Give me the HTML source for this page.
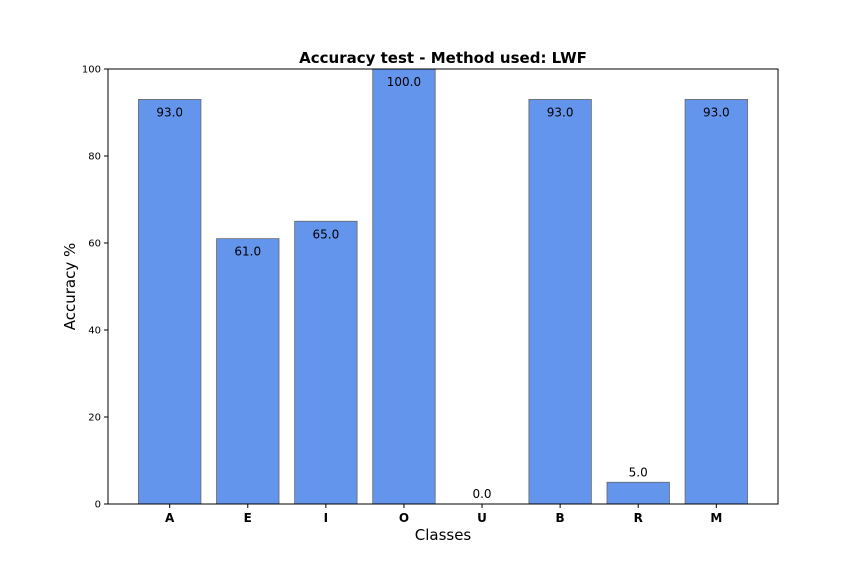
<!DOCTYPE html>
<html><head><meta charset="utf-8"><style>
body{margin:0;background:#fff}
svg{display:block;font-family:"DejaVu Sans","Liberation Sans",sans-serif}
</style></head><body>
<svg id="chart" width="864" height="576">
<text x="443" y="63" text-anchor="middle" font-size="15" font-weight="bold">Accuracy test - Method used: LWF</text>
<text x="443" y="540" text-anchor="middle" font-size="15">Classes</text>
<text transform="translate(75,286.5) rotate(-90)" text-anchor="middle" font-size="15">Accuracy %</text>
<g id="bars"></g><g id="yticks"></g><g id="xticks"></g>
<rect x="108" y="69" width="670" height="435" fill="none" stroke="#000" stroke-width="1"/>
</svg>
<script>
const categories=["A","E","I","O","U","B","R","M"];
const values=[93,61,65,100,0,93,5,93];
const yTicks=[0,20,40,60,80,100];
const L=108,R=778,T=69,B=504;
const x=i=>L+(i+0.79)/8.58*(R-L);
const y=v=>B-v/100*(B-T);
const ns="http://www.w3.org/2000/svg";
function mk(tag,attrs,parent,text){const e=document.createElementNS(ns,tag);for(const k in attrs)e.setAttribute(k,attrs[k]);if(text!==undefined)e.textContent=text;parent.appendChild(e);return e;}
const bars=document.getElementById('bars'),yt=document.getElementById('yticks'),xt=document.getElementById('xticks');
const bw=0.8/8.58*(R-L);
categories.forEach((c,i)=>{
  const r=mk('rect',{x:x(i)-bw/2,y:y(values[i]),width:bw,height:B-y(values[i]),fill:'#6495ED',stroke:'#666','stroke-width':0.8},bars);
  
  
  const ty=values[i]<10?y(values[i])-6:y(values[i])+17;
  const t=mk('text',{x:x(i),y:ty,'text-anchor':'middle','font-size':12},bars,values[i].toFixed(1));
  
  
  mk('line',{x1:x(i),x2:x(i),y1:B,y2:B+4,stroke:'#000'},xt);
  const xl=mk('text',{x:x(i),y:B+18,'text-anchor':'middle','font-size':12,'font-weight':'bold'},xt,c);
  
  
});
yTicks.forEach(v=>{
  mk('line',{x1:L-4,x2:L,y1:y(v),y2:y(v),stroke:'#000'},yt);
  const t=mk('text',{x:L-7,y:y(v)+3.5,'text-anchor':'end','font-size':10},yt,v);
  
  
});
</script>
</body></html>
